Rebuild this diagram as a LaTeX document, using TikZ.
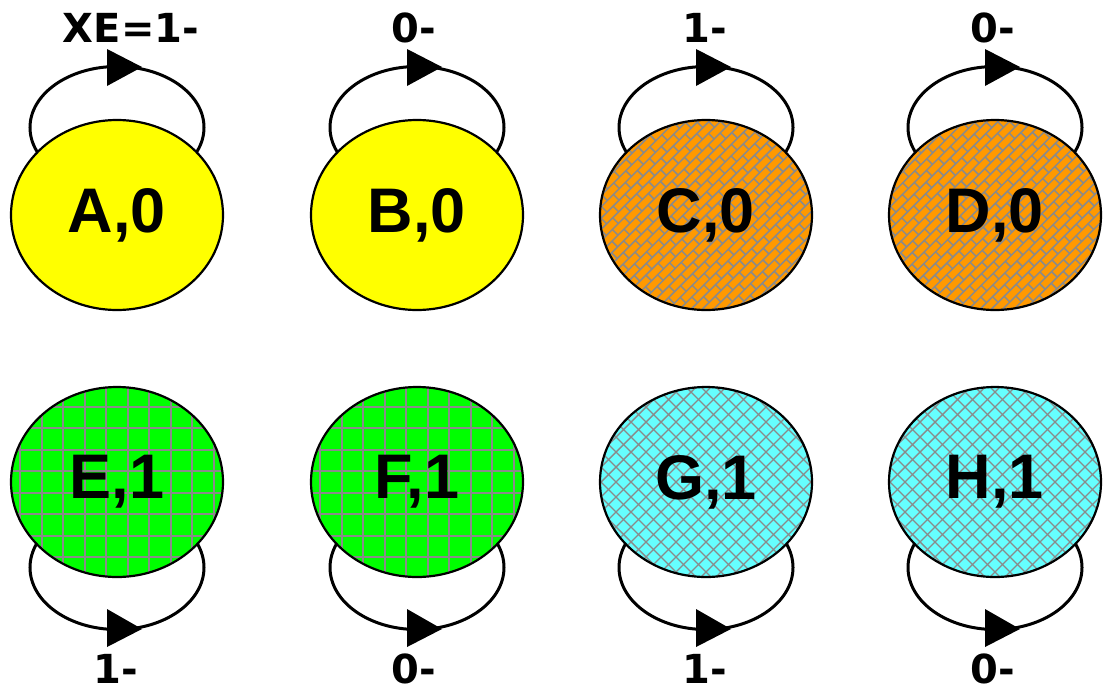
\documentclass[tikz,border=0pt]{standalone}
\usepackage{fontspec}
\setmainfont{Liberation Sans}
\newfontfamily\lblfont{DejaVu Sans}
\usetikzlibrary{shapes.geometric}
\definecolor{stYellow}{HTML}{FFFF00}
\definecolor{stOrange}{HTML}{FF9900}
\definecolor{stGreen}{HTML}{00FF00}
\definecolor{stCyan}{HTML}{66FFFF}
\definecolor{patGray}{HTML}{8A8A8A}
\begin{document}
\begin{tikzpicture}[x=1pt,y=-1pt,
  state/.style={ellipse, draw=black, line width=2.2pt, minimum width=212pt, minimum height=190pt, inner sep=0pt, font=\bfseries\fontsize{63}{63}\selectfont},
  loopline/.style={draw=black, line width=3pt},
  tri/.style={fill=black},
  pat/.style={draw=patGray, line width=1.6pt},
  lbl/.style={font=\lblfont\bfseries\fontsize{40}{40}\selectfont, inner sep=0pt}]
\useasboundingbox (0,0) rectangle (1105,691);

% ---------- loops (drawn first, covered by the states) ----------
\foreach \cx in {117,417,706,995}{
  \draw[loopline] (\cx,127.5) ellipse [x radius=87pt, y radius=61pt];
  \fill[tri] (\cx-10,49) -- (\cx-10,86) -- (\cx+25,67) -- cycle;
  \draw[loopline] (\cx,567.5) ellipse [x radius=87pt, y radius=62pt];
  \fill[tri] (\cx-10,609) -- (\cx-10,647) -- (\cx+25,629) -- cycle;
}

% ---------- plain yellow states ----------
\fill[stYellow] (117,215) ellipse [x radius=106pt, y radius=95pt];
\fill[stYellow] (417,215) ellipse [x radius=106pt, y radius=95pt];

% ---------- orange brick states ----------
\foreach \cx in {706,995}{
  \fill[stOrange] (\cx,215) ellipse [x radius=106pt, y radius=95pt];
  \begin{scope}
    \clip (\cx,215) ellipse [x radius=106pt, y radius=95pt];
    \begin{scope}[shift={(\cx,215)}, rotate=45]
      \foreach \k in {-18,...,18}{
        \draw[pat, line width=1.5pt] (-160,\k*8) -- (160,\k*8);
        \pgfmathsetmacro{\off}{mod(abs(\k),2)*8.5}
        \foreach \j in {-10,...,10}{
          \draw[pat, line width=1.5pt] (\j*17+\off,\k*8) -- (\j*17+\off,\k*8+8);
        }
      }
    \end{scope}
  \end{scope}
}

% ---------- green grid states ----------
\foreach \cx in {117,417}{
  \fill[stGreen] (\cx,482) ellipse [x radius=106pt, y radius=95pt];
  \begin{scope}
    \clip (\cx,482) ellipse [x radius=106pt, y radius=95pt];
    \foreach \k in {-6,...,5}{
      \draw[pat] (\cx+10.75+\k*21.5,380) -- (\cx+10.75+\k*21.5,585);
      \draw[pat] (\cx-120,482+10.75+\k*21.5) -- (\cx+120,482+10.75+\k*21.5);
    }
  \end{scope}
}

% ---------- cyan crosshatch states ----------
\foreach \cx in {706,995}{
  \fill[stCyan] (\cx,482) ellipse [x radius=106pt, y radius=95pt];
  \begin{scope}
    \clip (\cx,482) ellipse [x radius=106pt, y radius=95pt];
    \begin{scope}[shift={(\cx,482)}, rotate=45]
      \foreach \k in {-15,...,15}{
        \draw[pat, line width=1.3pt] (-170,\k*10.6) -- (170,\k*10.6);
        \draw[pat, line width=1.3pt] (\k*10.6,-170) -- (\k*10.6,170);
      }
    \end{scope}
  \end{scope}
}

% ---------- state nodes (outline + text) ----------
\node[state] (A) at (117,215) {A,0};
\node[state] (B) at (417,215) {B,0};
\node[state] (C) at (706,215) {C,0};
\node[state] (D) at (995,215) {D,0};
\node[state] (E) at (117,482) {E,1};
\node[state] (F) at (417,482) {F,1};
\node[state] (G) at (706,482) {G,1};
\node[state] (H) at (995,482) {H,1};

% ---------- labels ----------
\node[lbl] (lA) at (131,28) {XE=1-};
\node[lbl] (lB) at (414,28) {0-};
\node[lbl] (lC) at (705,28) {1-};
\node[lbl] (lD) at (993,28) {0-};
\node[lbl] (lE) at (116,669) {1-};
\node[lbl] (lF) at (414,669) {0-};
\node[lbl] (lG) at (705,669) {1-};
\node[lbl] (lH) at (993,669) {0-};
\end{tikzpicture}
\end{document}
